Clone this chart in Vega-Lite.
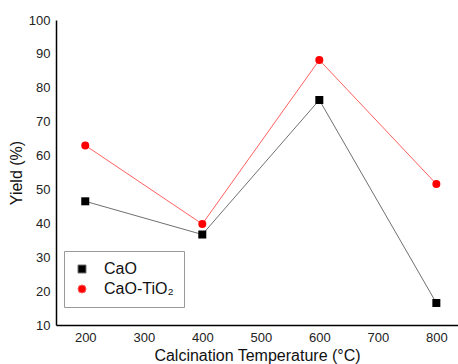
{
  "$schema": "https://vega.github.io/schema/vega-lite/v6.json",
  "width": 402,
  "height": 305,
  "autosize": "none",
  "padding": {"left": 56, "top": 20, "right": 0, "bottom": 39},
  "background": "white",
  "config": {"view": {"stroke": null}, "font": "Liberation Sans"},
  "data": {"values": [
    {"temp": 200, "series": "CaO", "yield": 46.5},
    {"temp": 400, "series": "CaO", "yield": 36.7},
    {"temp": 600, "series": "CaO", "yield": 76.4},
    {"temp": 800, "series": "CaO", "yield": 16.5},
    {"temp": 200, "series": "CaO-TiO₂", "yield": 63.0},
    {"temp": 400, "series": "CaO-TiO₂", "yield": 39.8},
    {"temp": 600, "series": "CaO-TiO₂", "yield": 88.2},
    {"temp": 800, "series": "CaO-TiO₂", "yield": 51.6}
  ]},
  "encoding": {
    "x": {"field": "temp", "type": "quantitative",
      "scale": {"domain": [150, 837], "nice": false, "zero": false},
      "axis": {"values": [200, 300, 400, 500, 600, 700, 800], "title": "Calcination Temperature (°C)",
        "grid": false, "ticks": false, "domainColor": "#000000", "domainWidth": 1.5,
        "labelFontSize": 13, "labelColor": "#222222", "labelPadding": 6,
        "titleFontSize": 16, "titleFontWeight": "normal", "titleColor": "#111111", "titlePadding": 3}},
    "y": {"field": "yield", "type": "quantitative",
      "scale": {"domain": [10, 100], "nice": false, "zero": false},
      "axis": {"values": [10, 20, 30, 40, 50, 60, 70, 80, 90, 100], "title": "Yield (%)",
        "grid": false, "ticks": false, "domainColor": "#000000", "domainWidth": 1.5,
        "labelFontSize": 13, "labelColor": "#222222", "labelPadding": 6,
        "titleFontSize": 16, "titleFontWeight": "normal", "titleColor": "#111111", "titlePadding": 4}}
  },
  "layer": [
    {
      "mark": {"type": "line", "strokeWidth": 1},
      "encoding": {
        "stroke": {"field": "series", "type": "nominal",
          "scale": {"domain": ["CaO", "CaO-TiO₂"], "range": ["#707070", "#ff6060"]}}
      }
    },
    {
      "mark": {"type": "point", "filled": true, "opacity": 1, "size": 64},
      "encoding": {
        "shape": {"field": "series", "type": "nominal",
          "scale": {"domain": ["CaO", "CaO-TiO₂"], "range": ["square", "circle"]}},
        "fill": {"field": "series", "type": "nominal",
          "scale": {"domain": ["CaO", "CaO-TiO₂"], "range": ["#000000", "#ff0000"]},
          "legend": {
            "title": null, "orient": "none", "legendX": 8, "legendY": 231,
            "strokeColor": "#999999", "fillColor": "#ffffff", "padding": 10,
            "symbolSize": 64, "symbolStrokeWidth": 1,
            "labelFontSize": 16, "labelColor": "#111111",
            "labelOffset": 14, "rowPadding": 4}}
      }
    }
  ]
}
